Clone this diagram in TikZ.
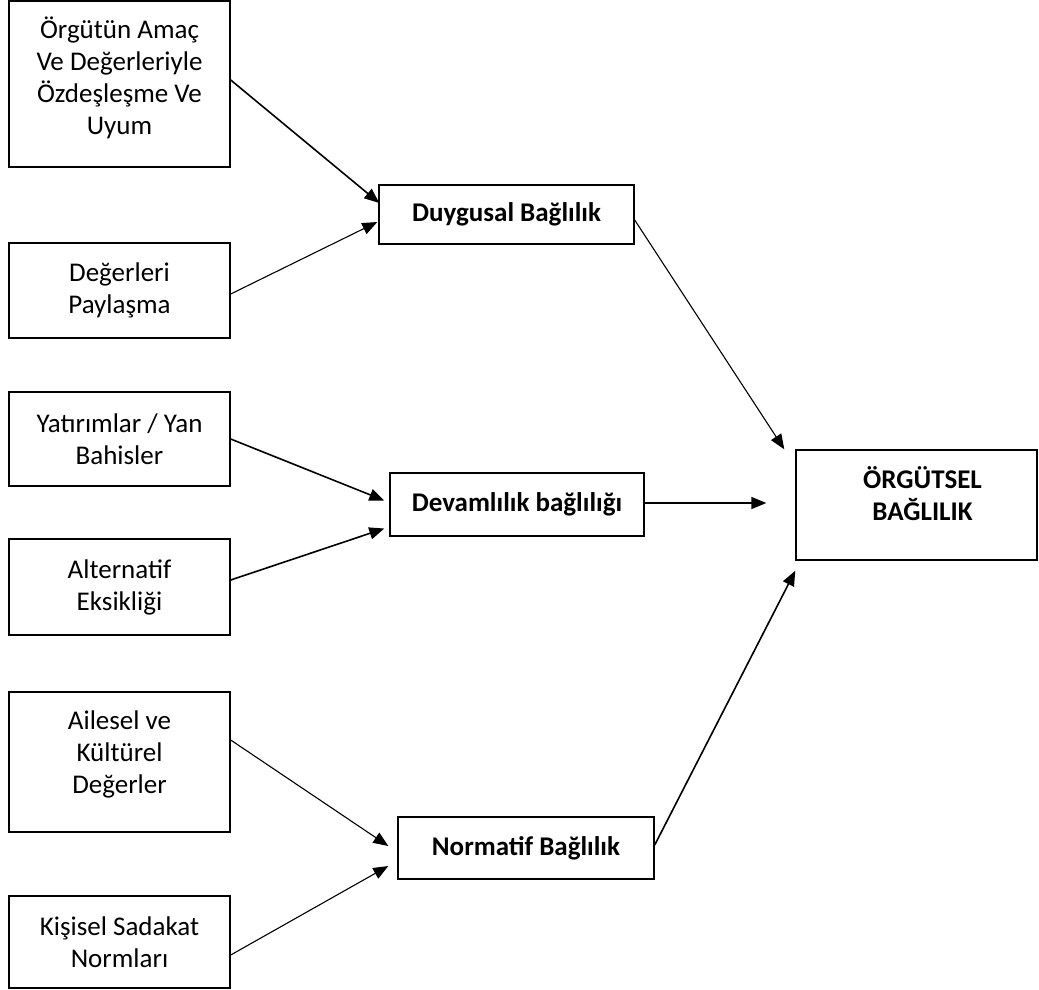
\documentclass[tikz,border=0pt]{standalone}
\usepackage{fontspec}
\setmainfont{Carlito}
\usetikzlibrary{arrows.meta}
\newcommand{\diagfont}{\fontsize{27}{32}\selectfont}
\tikzset{
  box/.style={draw, line width=1.4pt, rectangle, inner sep=0pt, align=center, font=\diagfont},
  lbox/.style={box, minimum width=221pt},
  mbox/.style={box, font=\diagfont\bfseries},
  txt/.style={align=center, inner sep=0pt, font=\diagfont},
  arr/.style={-{Triangle[length=15pt,width=12pt]}, line width=1.6pt},
  tarr/.style={-{Triangle[length=15pt,width=12pt]}, line width=1.1pt},
}
\begin{document}
\begin{tikzpicture}[x=1pt,y=-1pt]
\useasboundingbox (0,0) rectangle (1039,989);
% left boxes
\node[lbox, minimum height=166pt] (b1) at (119.5,84) {};
\node[txt] (t1) at ([yshift=6pt]b1.center) {Örgütün Amaç\\Ve Değerleriyle\\Özdeşleşme Ve\\Uyum};
\node[lbox, minimum height=95pt] (b2) at (119.5,290.5) {Değerleri\\Paylaşma};
\node[lbox, minimum height=94pt] (b3) at (119.5,439) {Yatırımlar / Yan\\Bahisler};
\node[lbox, minimum height=96pt] (b4) at (119.5,587) {Alternatif\\Eksikliği};
\node[lbox, minimum height=140pt] (b5) at (119.5,762) {};
\node[txt] (t5) at ([yshift=8pt]b5.center) {Ailesel ve\\Kültürel\\Değerler};
\node[lbox, minimum height=92pt] (b6) at (119.5,942) {Kişisel Sadakat\\Normları};
% middle boxes
\node[mbox, minimum width=255pt, minimum height=59pt] (du) at (506.5,214.5) {Duygusal Bağlılık};
\node[mbox, minimum width=254pt, minimum height=63pt] (de) at (517,504.5) {Devamlılık bağlılığı};
\node[mbox, minimum width=256pt, minimum height=62pt] (no) at (526,848) {Normatif Bağlılık};
% right box
\node[box, minimum width=241pt, minimum height=110pt] (og) at (916.5,505) {};
\node[txt, font=\diagfont\bfseries] (tog) at ([xshift=6pt,yshift=11pt]og.center) {ÖRGÜTSEL\\BAĞLILIK};
% connectors
\draw[arr] ([yshift=4pt]b1.east) -- ([xshift=1pt,yshift=11.5pt]du.west);
\draw[tarr] ([yshift=-3.5pt]b2.east) -- ([xshift=-1pt,yshift=-7.5pt]du.west);
\draw[arr] (b3.east) -- ([xshift=-5pt,yshift=4pt]de.west);
\draw[arr] ([yshift=7pt]b4.east) -- ([xshift=-5pt,yshift=-24pt]de.west);
\draw[tarr] ([yshift=22pt]b5.east) -- ([xshift=-9pt,yshift=2pt]no.west);
\draw[tarr] ([yshift=-13pt]b6.east) -- ([xshift=-9pt,yshift=-18pt]no.west);
\draw[tarr] ([yshift=-5.5pt]du.east) -- ([xshift=-11pt]og.north west);
\draw[arr] ([yshift=1.5pt]de.east) -- ([xshift=-29pt,yshift=2pt]og.west);
\draw[arr] ([yshift=3pt]no.east) -- ([yshift=-10pt]og.south west);
\end{tikzpicture}
\end{document}
